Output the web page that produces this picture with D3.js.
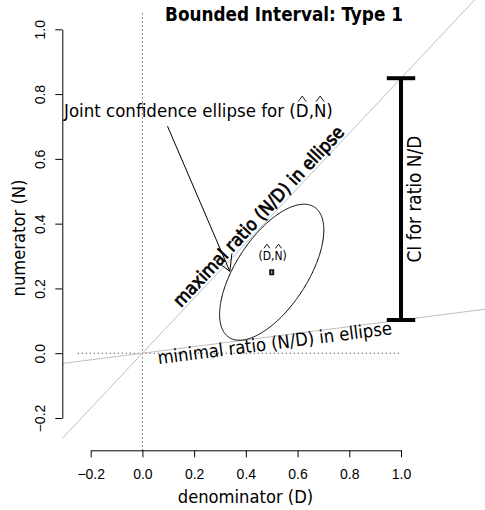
<!DOCTYPE html>
<html><head><meta charset="utf-8">
<script src="https://cdn.jsdelivr.net/npm/d3@7"></script>
<style>body{margin:0;background:#fff} svg{display:block}</style>
</head><body>
<svg id="c" width="485" height="510"></svg>
<script>
// ---- data ----
const xTicks = [-0.2, 0.0, 0.2, 0.4, 0.6, 0.8, 1.0];
const yTicks = [-0.2, 0.0, 0.2, 0.4, 0.6, 0.8, 1.0];
const estimate = [0.5, 0.25];           // (D hat, N hat)
const ellipseSD = [0.2015, 0.21];       // half-extent in D and N
const ellipseRho = 0.62;                // correlation
const ratioBounds = [0.1025, 0.849];    // minimal, maximal ratio N/D in ellipse
const ciAt = 1.0;                       // x where the CI bar is drawn
const refVertical = [-0.3, 1.05];       // dotted line at D = 0 (N range)
const refHorizontal = [-0.25, 1.0];     // dotted line at N = 0 (D range)
const pointerFrom = [0.097, 0.701];
const pointerTo = [0.338, 0.253];
const lineRange = [-0.32, 1.8];
const labels = {
  title: "Bounded Interval: Type 1",
  joint: "Joint confidence ellipse for (D,N)",
  maxr: "maximal ratio (N/D) in ellipse",
  minr: "minimal ratio (N/D) in ellipse",
  ci: "CI for ratio N/D",
  est: "(D,N)",
  xlab: "denominator (D)",
  ylab: "numerator (N)"
};

// ---- layout ----
const W = 485, H = 510;
const FONT = "'DejaVu Sans Condensed','DejaVu Sans',sans-serif";
const TICKFONT = "'Liberation Sans',Arial,sans-serif";
const x = d3.scaleLinear().domain([-0.2, 1.0]).range([90.7, 401]);
const y = d3.scaleLinear().domain([-0.2, 1.0]).range([418, 29.3]);
const axisX = 62.3, axisY = 450.3;

const svg = d3.select('#c');
svg.append('rect').attr('width', W).attr('height', H).attr('fill', '#fff');
svg.append('clipPath').attr('id', 'clip').append('rect')
  .attr('x', axisX).attr('y', 0).attr('width', W - axisX).attr('height', axisY);

function fit(sel, target) {
  const w = sel.node().getComputedTextLength();
  const fs = +sel.attr('font-size');
  sel.attr('font-size', fs * target / w);
  return fs * target / w;
}
function addHats(g, tsel, idxs, fs, baseY, gap, h, wpx) {
  const node = tsel.node();
  idxs.forEach(i => {
    const e = node.getExtentOfChar(i);
    const cx = e.x + e.width / 2;
    const yb = baseY - 0.73 * fs - gap;
    g.append('path')
      .attr('d', `M${cx - wpx / 2},${yb}L${cx},${yb - h}L${cx + wpx / 2},${yb}`)
      .attr('fill', 'none').attr('stroke', '#000').attr('stroke-width', 0.9);
  });
}

// ---- dotted reference lines ----
svg.append('line')
  .attr('x1', x(0)).attr('x2', x(0)).attr('y1', y(refVertical[0])).attr('y2', y(refVertical[1]))
  .attr('stroke', '#222').attr('stroke-width', 1).attr('stroke-dasharray', '1,3');
svg.append('line')
  .attr('x1', x(refHorizontal[0])).attr('x2', x(refHorizontal[1])).attr('y1', y(0)).attr('y2', y(0))
  .attr('stroke', '#222').attr('stroke-width', 1).attr('stroke-dasharray', '1,3');

// ---- ratio lines ----
const clipG = svg.append('g').attr('clip-path', 'url(#clip)');
ratioBounds.forEach(m => {
  clipG.append('line')
    .attr('x1', x(lineRange[0])).attr('y1', y(m * lineRange[0]))
    .attr('x2', x(lineRange[1])).attr('y2', y(m * lineRange[1]))
    .attr('stroke', '#bebebe').attr('stroke-width', 1);
});

// ---- ellipse ----
const dAng = Math.acos(ellipseRho);
const ellPts = d3.range(0, 361).map(k => {
  const t = k / 360 * 2 * Math.PI;
  return [x(estimate[0] + ellipseSD[0] * Math.cos(t)), y(estimate[1] + ellipseSD[1] * Math.cos(t - dAng))];
});
svg.append('path').attr('d', d3.line()(ellPts) + 'Z')
  .attr('fill', 'none').attr('stroke', '#000').attr('stroke-width', 1);

// ---- estimate point ----
svg.append('rect')
  .attr('x', x(estimate[0]) - 2.5).attr('y', y(estimate[1]) - 3)
  .attr('width', 5).attr('height', 6).attr('fill', '#111');
svg.append('rect')
  .attr('x', x(estimate[0]) - 0.5).attr('y', y(estimate[1]) - 1.5)
  .attr('width', 1).attr('height', 3).attr('fill', '#ccc');

// ---- CI bar ----
const ciTop = y(ratioBounds[1] * ciAt), ciBot = y(ratioBounds[0] * ciAt), cx0 = x(ciAt);
svg.append('line').attr('x1', cx0).attr('x2', cx0).attr('y1', ciTop).attr('y2', ciBot)
  .attr('stroke', '#000').attr('stroke-width', 4);
[ciTop, ciBot].forEach(yy => svg.append('line')
  .attr('x1', cx0 - 14.2).attr('x2', cx0 + 14.2).attr('y1', yy).attr('y2', yy)
  .attr('stroke', '#000').attr('stroke-width', 4));

// ---- pointer arrow ----
{
  const x1 = x(pointerFrom[0]), y1 = y(pointerFrom[1]), x2 = x(pointerTo[0]), y2 = y(pointerTo[1]);
  const a = Math.atan2(y1 - y2, x1 - x2), L = 18, sp = Math.PI / 6;
  svg.append('path')
    .attr('d', `M${x1},${y1}L${x2},${y2}M${x2 + L * Math.cos(a + sp)},${y2 + L * Math.sin(a + sp)}L${x2},${y2}L${x2 + L * Math.cos(a - sp)},${y2 + L * Math.sin(a - sp)}`)
    .attr('fill', 'none').attr('stroke', '#000').attr('stroke-width', 1);
}

// ---- axes ----
const gx = svg.append('g').attr('transform', `translate(0,${axisY})`)
  .call(d3.axisBottom(x).tickValues(xTicks).tickFormat(d3.format('.1f')).tickSize(7).tickSizeOuter(0));
gx.attr('font-size', 14).attr('font-family', TICKFONT);
gx.selectAll('.tick text').attr('y', 28.7).attr('dy', 0).attr('fill', '#000');
gx.selectAll('line,path').attr('stroke', '#000');

const gy = svg.append('g').attr('transform', `translate(${axisX},0)`)
  .call(d3.axisLeft(y).tickValues(yTicks).tickFormat(d3.format('.1f')).tickSize(7).tickSizeOuter(0));
gy.attr('font-size', 14).attr('font-family', TICKFONT);
gy.selectAll('.tick text').attr('x', 0).attr('dy', 0).attr('text-anchor', 'middle')
  .attr('transform', 'translate(-17.3,0) rotate(-90)').attr('fill', '#000');
gy.selectAll('line,path').attr('stroke', '#000');

// ---- texts ----
const t = svg.append('text').text(labels.title).attr('x', 284).attr('y', 21)
  .attr('text-anchor', 'middle').attr('font-family', FONT).attr('font-weight', 'bold').attr('font-size', 16);
fit(t, 238);

const xl = svg.append('text').text(labels.xlab).attr('x', 245.5).attr('y', 503)
  .attr('text-anchor', 'middle').attr('font-family', FONT).attr('font-size', 16);
const axFs = fit(xl, 135.6);
svg.append('g').attr('transform', 'translate(25,238) rotate(-90)')
  .append('text').text(labels.ylab).attr('text-anchor', 'middle')
  .attr('font-family', FONT).attr('font-size', axFs);

// joint label with hats
{
  const g = svg.append('g');
  const jt = g.append('text').text(labels.joint).attr('x', 64).attr('y', 116.7)
    .attr('font-family', FONT).attr('font-size', 16);
  const fs = fit(jt, 269);
  const s = labels.joint;
  addHats(g, jt, [s.lastIndexOf('D'), s.lastIndexOf('N')], fs, 116.7, 1.6, 5.5, 8);
}

// estimate label with hats
{
  const g = svg.append('g');
  const fs = 12;
  const et = g.append('text').text(labels.est).attr('x', x(estimate[0]) + 1).attr('y', 260)
    .attr('text-anchor', 'middle').attr('font-family', FONT).attr('font-size', fs);
  addHats(g, et, [1, 3], fs, 260, 3, 4, 6);
}

// maximal ratio text along the max line
{
  const m = ratioBounds[1], xd = 0.475;
  const ang = Math.atan2(y(m * 1) - y(0), x(1) - x(0)) * 180 / Math.PI;
  const g = svg.append('g').attr('transform', `translate(${x(xd)},${y(m * xd)}) rotate(${ang})`);
  const tt = g.append('text').text(labels.maxr).attr('x', 0).attr('y', -3)
    .attr('text-anchor', 'middle').attr('font-family', FONT).attr('font-size', 16)
    .attr('stroke', '#000').attr('stroke-width', 0.7);
  fit(tt, 240);
}
// minimal ratio text along the min line
{
  const m = ratioBounds[0], xd = 0.508;
  const ang = Math.atan2(y(m * 1) - y(0), x(1) - x(0)) * 180 / Math.PI;
  const g = svg.append('g').attr('transform', `translate(${x(xd)},${y(m * xd)}) rotate(${ang})`);
  const tt = g.append('text').text(labels.minr).attr('x', 0).attr('y', 13)
    .attr('text-anchor', 'middle').attr('font-family', FONT).attr('font-size', 16);
  fit(tt, 236);
}
// CI text
{
  const mid = (y(ratioBounds[0] * ciAt) + y(ratioBounds[1] * ciAt)) / 2;
  const g = svg.append('g').attr('transform', `translate(421,${mid}) rotate(-90)`);
  const tt = g.append('text').text(labels.ci).attr('text-anchor', 'middle')
    .attr('font-family', FONT).attr('font-size', 16);
  fit(tt, 127);
}
</script>
</body></html>
